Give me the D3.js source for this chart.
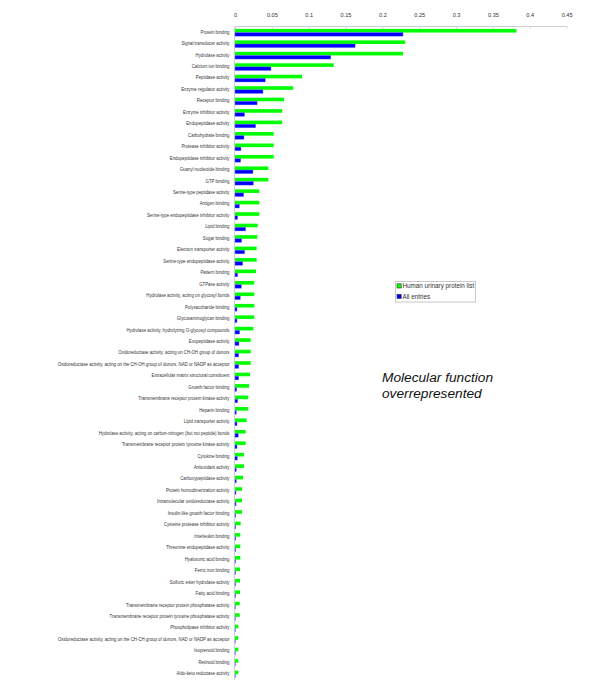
<!DOCTYPE html>
<html><head><meta charset="utf-8">
<script src="https://cdn.jsdelivr.net/npm/d3@7"></script>
<style>body{margin:0;background:#fff}svg{display:block}</style>
</head><body>
<svg id="c" width="600" height="695"></svg>
<script>
const categories = ["Protein binding","Signal transducer activity","Hydrolase activity","Calcium ion binding","Peptidase activity","Enzyme regulator activity","Receptor binding","Enzyme inhibitor activity","Endopeptidase activity","Carbohydrate binding","Protease inhibitor activity","Endopeptidase inhibitor activity","Guanyl nucleotide binding","GTP binding","Serine-type peptidase activity","Antigen binding","Serine-type endopeptidase inhibitor activity","Lipid binding","Sugar binding","Electron transporter activity","Serine-type endopeptidase activity","Pattern binding","GTPase activity","Hydrolase activity, acting on glycosyl bonds","Polysaccharide binding","Glycosaminoglycan binding","Hydrolase activity, hydrolyzing O-glycosyl compounds","Exopeptidase activity","Oxidoreductase activity, acting on CH-OH group of donors","Oxidoreductase activity, acting on the CH-OH group of donors, NAD or NADP as acceptor","Extracellular matrix structural constituent","Growth factor binding","Transmembrane receptor protein kinase activity","Heparin binding","Lipid transporter activity","Hydrolase activity, acting on carbon-nitrogen (but not peptide) bonds","Transmembrane receptor protein tyrosine kinase activity","Cytokine binding","Antioxidant activity","Carboxypeptidase activity","Protein homodimerization activity","Intramolecular oxidoreductase activity","Insulin-like growth factor binding","Cysteine protease inhibitor activity","Interleukin binding","Threonine endopeptidase activity","Hyaluronic acid binding","Ferric iron binding","Sulfuric ester hydrolase activity","Fatty acid binding","Transmembrane receptor protein phosphatase activity","Transmembrane receptor protein tyrosine phosphatase activity","Phospholipase inhibitor activity","Oxidoreductase activity, acting on the CH-CH group of donors, NAD or NADP as acceptor","Isoprenoid binding","Retinoid binding","Aldo-keto reductase activity"];
const urinary = [0.382,0.231,0.228,0.134,0.091,0.079,0.0665,0.064,0.064,0.0525,0.0525,0.0525,0.0452,0.0452,0.033,0.033,0.033,0.0308,0.0303,0.0294,0.0294,0.0285,0.0262,0.0262,0.0262,0.0262,0.0249,0.0213,0.0213,0.0213,0.0204,0.019,0.018,0.018,0.0158,0.0145,0.0145,0.0122,0.0122,0.0109,0.0095,0.0095,0.0095,0.0077,0.0072,0.0072,0.0072,0.0068,0.0068,0.0068,0.0063,0.0063,0.0045,0.0045,0.0045,0.0045,0.0045];
const allEntries = [0.228,0.163,0.130,0.0488,0.041,0.038,0.030,0.013,0.028,0.0122,0.0081,0.0077,0.0244,0.0249,0.0118,0.0059,0.0036,0.0145,0.009,0.0131,0.0104,0.0036,0.0086,0.0072,0.0027,0.0027,0.0063,0.0054,0.005,0.005,0.005,0.0023,0.0036,0.0018,0.0027,0.0045,0.0027,0.0032,0.0018,0.0018,0.0014,0.0014,0.0009,0.0009,0.0009,0.0009,0.0008,0.0008,0.0008,0.0008,0.0005,0.0005,0.0004,0.0004,0.0004,0.0004,0.0004];
const tickValues = [0,0.05,0.1,0.15,0.2,0.25,0.3,0.35,0.4,0.45];
const seriesNames = ["Human urinary protein list","All entries"];
const seriesColors = ["#00ff00","#0000ff"];

const svg = d3.select("#c");
const x = d3.scaleLinear().domain([0,0.45]).range([235,566.6]);
const y = d3.scaleBand().domain(categories).range([26.8,679.9]).paddingInner(0.37).paddingOuter(0.185);
const sub = d3.scaleBand().domain([0,1]).range([0,y.bandwidth()]);
const fontNarrow = "Liberation Sans, Arial, sans-serif";

// top axis
const axis = d3.axisTop(x).tickValues(tickValues).tickSize(2).tickFormat(d=>d3.format("")(d));
const ag = svg.append("g").attr("transform","translate(0,26.5)").call(axis);
ag.select(".domain").attr("stroke","#cfcfcf").attr("d",`M${x(0)},0H${x(0.45)}`);
ag.selectAll(".tick line").attr("stroke","#cfcfcf").attr("y1",0).attr("y2",2);
ag.selectAll(".tick text").attr("font-family",fontNarrow).attr("font-size",5.6).attr("fill","#333").attr("y",-9.5);

// vertical axis
svg.append("line").attr("x1",x(0)-0.5).attr("x2",x(0)-0.5).attr("y1",26.5).attr("y2",680).attr("stroke","#cfcfcf");

const g = svg.append("g");
const rows = g.selectAll("g.row").data(categories).join("g").attr("class","row")
  .attr("transform",d=>`translate(0,${y(d)})`);
rows.append("rect").attr("x",x(0)).attr("y",sub(0)).attr("height",sub.bandwidth())
  .attr("width",(d,i)=>x(urinary[i])-x(0)).attr("fill",seriesColors[0]);
rows.append("rect").attr("x",x(0)).attr("y",sub(1)).attr("height",sub.bandwidth())
  .attr("width",(d,i)=>x(allEntries[i])-x(0)).attr("fill",seriesColors[1])
  .attr("stroke","#7070ff").attr("stroke-width",0.4);
rows.append("text")
  .attr("transform",`translate(${x(0)-5.5},${y.bandwidth()/2+1.1}) scale(0.79,1)`)
  .attr("text-anchor","end")
  .attr("font-family",fontNarrow).attr("font-size",5.5).attr("fill","#333")
  .text(d=>d);

// legend
const lg = svg.append("g").attr("transform","translate(395.5,281.5)");
lg.append("rect").attr("width",80).attr("height",20.5).attr("fill","#fff").attr("stroke","#c8c8c8");
seriesNames.forEach((n,i)=>{
  lg.append("rect").attr("x",1.5).attr("y",2.3+i*10.5).attr("width",4.2).attr("height",4.2).attr("fill",seriesColors[i]).attr("stroke","#333").attr("stroke-width",0.6);
  lg.append("text").attr("x",7).attr("y",6.6+i*10.5).attr("font-family",fontNarrow).attr("font-size",6.3).attr("fill","#333").text(n);
});

// annotation
const ann = svg.append("text").attr("font-family","Liberation Sans, Arial, sans-serif").attr("font-style","italic").attr("font-size",13.7).attr("fill","#111");
ann.append("tspan").attr("x",382).attr("y",381.5).text("Molecular function");
ann.append("tspan").attr("x",382).attr("y",398).text("overrepresented");
</script>
</body></html>
